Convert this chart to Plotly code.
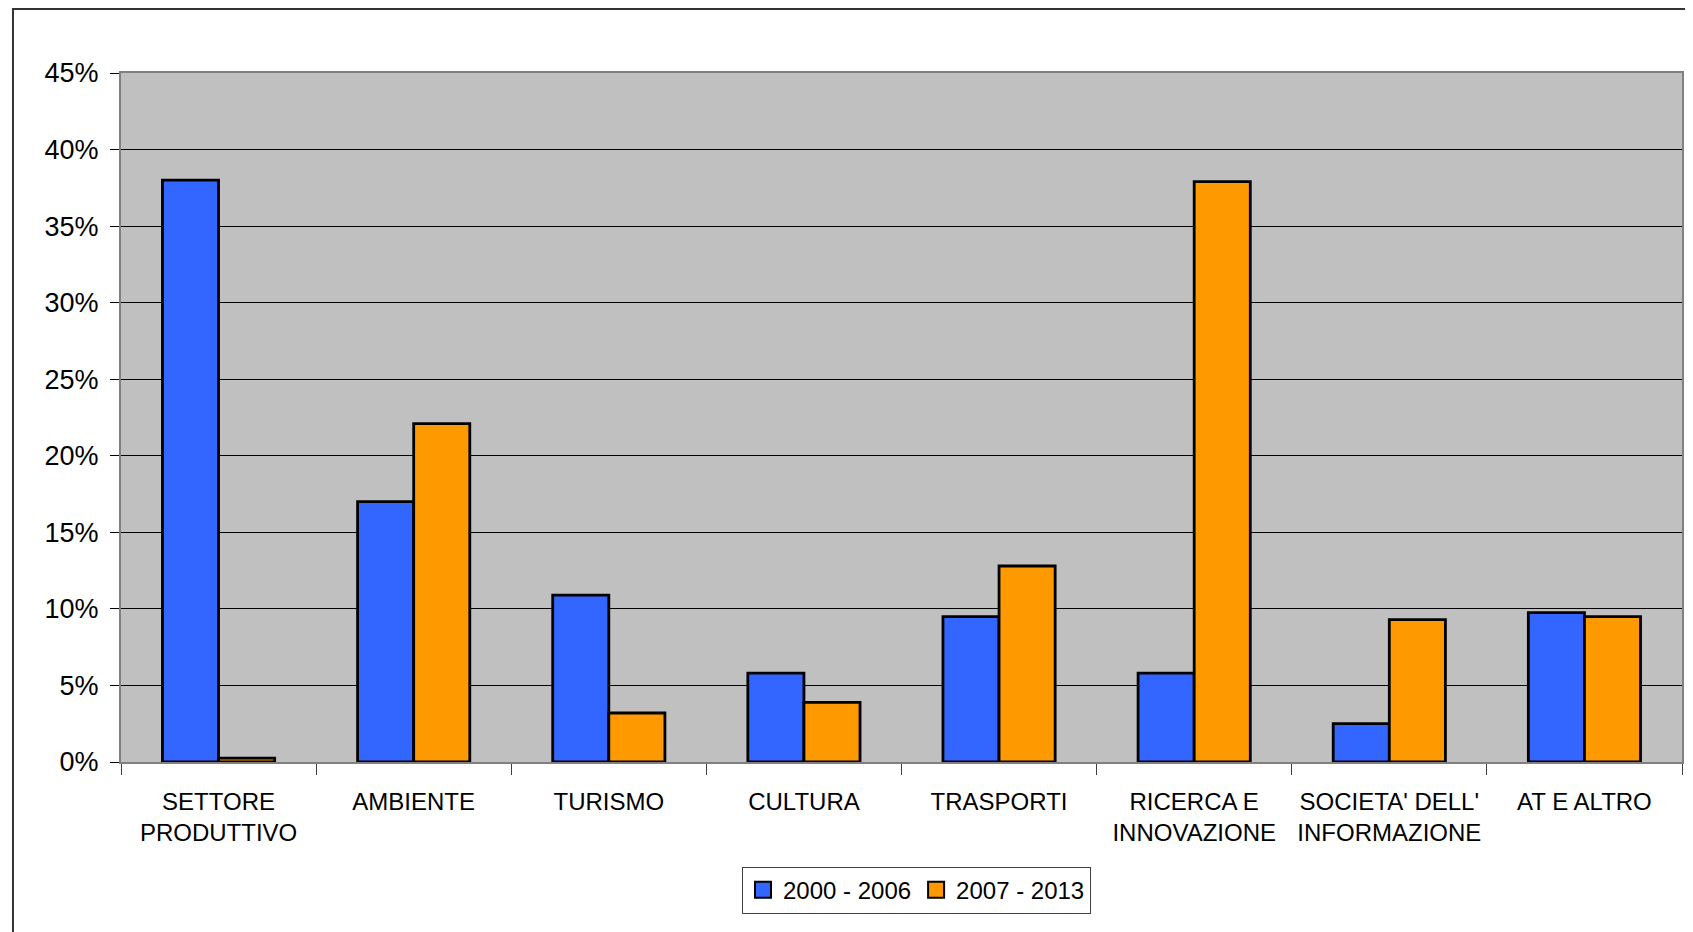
import plotly.graph_objects as go

categories = ["SETTORE<br>PRODUTTIVO", "AMBIENTE", "TURISMO", "CULTURA", "TRASPORTI",
              "RICERCA E<br>INNOVAZIONE", "SOCIETA' DELL'<br>INFORMAZIONE", "AT E ALTRO"]
series_names = ["2000 - 2006", "2007 - 2013"]
values_2000_2006 = [38.0, 17.0, 10.9, 5.8, 9.5, 5.8, 2.5, 9.75]
values_2007_2013 = [0.25, 22.1, 3.2, 3.9, 12.8, 37.9, 9.3, 9.5]
series_colors = ["#3366FF", "#FF9900"]
y_ticks = [0, 5, 10, 15, 20, 25, 30, 35, 40, 45]
y_tick_labels = ["0%", "5%", "10%", "15%", "20%", "25%", "30%", "35%", "40%", "45%"]

FONT = "Liberation Sans, Arial, sans-serif"

fig = go.Figure()
for name, vals, col in zip(series_names, [values_2000_2006, values_2007_2013], series_colors):
    fig.add_trace(go.Bar(name=name, x=categories, y=vals, showlegend=False,
                         marker=dict(color=col, line=dict(color="black", width=2.8))))
# legend entries with larger square keys
for name, col in zip(series_names, series_colors):
    fig.add_trace(go.Scatter(name=name, x=[None], y=[None], mode="markers",
                             marker=dict(symbol="square", size=16, color=col,
                                         line=dict(color="black", width=2))))

fig.update_layout(
    width=1685, height=924,
    margin=dict(l=113, r=11, t=65, b=170, autoexpand=False),
    paper_bgcolor="white", plot_bgcolor="#C0C0C0",
    barmode="group", bargap=0.425, bargroupgap=0,
    font=dict(family=FONT, size=25, color="black"),
    showlegend=True,
    legend=dict(orientation="h", x=0.5096, xanchor="center", y=-0.152, yanchor="top",
                bgcolor="white", bordercolor="#404040", borderwidth=1,
                font=dict(family=FONT, size=24, color="black"),
                itemwidth=30, tracegroupgap=0, itemsizing="trace"),
    xaxis=dict(showline=True, linecolor="#808080", linewidth=2, mirror=True,
               ticks="outside", tickson="boundaries", ticklen=11, tickcolor="#404040",
               tickwidth=1, showgrid=False, tickangle=0, automargin=False,
               ticklabelstandoff=17,
               tickfont=dict(family=FONT, size=24)),
    yaxis=dict(range=[0, 45], tickvals=y_ticks, ticktext=y_tick_labels,
               showline=True, linecolor="#808080", linewidth=2, mirror=True,
               ticks="outside", ticklen=9, tickcolor="black", tickwidth=1,
               showgrid=True, gridcolor="black", gridwidth=1, zeroline=False,
               automargin=False, ticklabelstandoff=6,
               tickfont=dict(family=FONT, size=27)),
    shapes=[dict(type="rect", xref="paper", yref="paper",
                 x0=-0.0692, x1=1.05, y0=-0.3, y1=1.093,
                 line=dict(color="#333333", width=2), fillcolor="rgba(0,0,0,0)",
                 layer="below")],
)

fig.write_html("out.html")
